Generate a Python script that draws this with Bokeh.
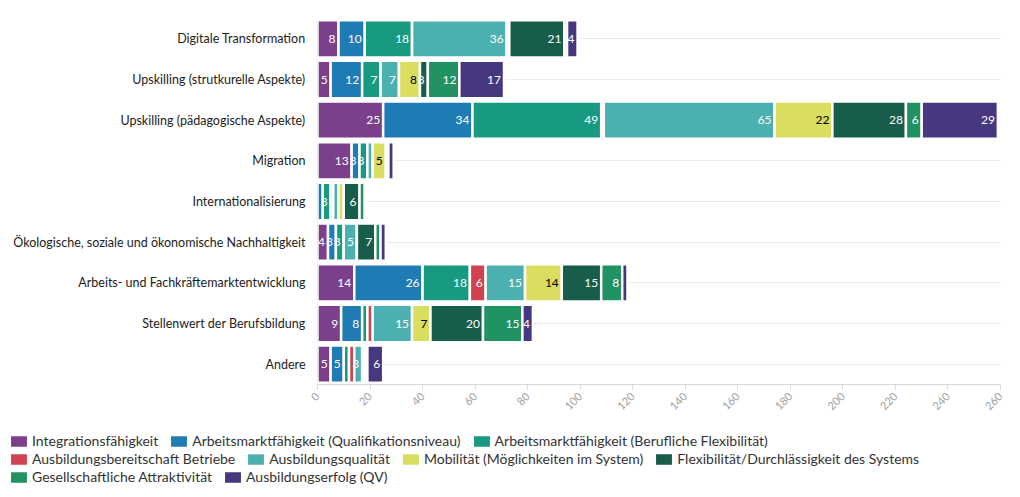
import math
from bokeh.plotting import figure
from bokeh.layouts import column
from bokeh.models import ColumnDataSource, FactorRange, Range1d, FixedTicker, Legend, LegendItem
from bokeh.embed import file_html
from bokeh.resources import INLINE
from bokeh.core.properties import value

FONT = "Lato"

categories = [
    "Digitale Transformation",
    "Upskilling (strutkurelle Aspekte)",
    "Upskilling (pädagogische Aspekte)",
    "Migration",
    "Internationalisierung",
    "Ökologische, soziale und ökonomische Nachhaltigkeit",
    "Arbeits- und Fachkräftemarktentwicklung",
    "Stellenwert der Berufsbildung",
    "Andere",
]

series_names = [
    "Integrationsfähigkeit",
    "Arbeitsmarktfähigkeit (Qualifikationsniveau)",
    "Arbeitsmarktfähigkeit (Berufliche Flexibilität)",
    "Ausbildungsbereitschaft Betriebe",
    "Ausbildungsqualität",
    "Mobilität (Möglichkeiten im System)",
    "Flexibilität/Durchlässigkeit des Systems",
    "Gesellschaftliche Attraktivität",
    "Ausbildungserfolg (QV)",
]

integration      = [8, 5, 25, 13, 0, 4, 14, 9, 5]
arbeit_qual      = [10, 12, 34, 3, 2, 3, 26, 8, 5]
arbeit_flex      = [18, 7, 49, 3, 3, 3, 18, 2, 2]
bereitschaft     = [0, 0, 1, 0, 1, 0, 6, 2, 2]
qualitaet        = [36, 7, 65, 2, 2, 5, 15, 15, 3]
mobilitaet       = [1, 8, 22, 5, 2, 0, 14, 7, 1]
durchlaessigkeit = [21, 3, 28, 1, 6, 7, 15, 20, 0]
attraktivitaet   = [1, 12, 6, 0, 2, 2, 8, 15, 1]
erfolg           = [4, 17, 29, 2, 0, 2, 2, 4, 6]

series_values = [integration, arbeit_qual, arbeit_flex, bereitschaft, qualitaet,
                 mobilitaet, durchlaessigkeit, attraktivitaet, erfolg]

colors = ["#7b3f8c", "#1f7bb4", "#179a7f", "#d0424f", "#4db0b0",
          "#d9dd60", "#175d4a", "#219262", "#46377f"]
label_colors = ["white", "white", "white", "white", "white",
                "black", "white", "white", "white"]

keys = [f"s{i}" for i in range(len(series_names))]
data = {"cat": categories}
for k, vals in zip(keys, series_values):
    data[k] = vals
source = ColumnDataSource(data)

# ---------------- main chart ----------------
p = figure(width=1018, height=425, output_backend="svg", toolbar_location=None,
           y_range=FactorRange(factors=list(reversed(categories))),
           x_range=Range1d(0, 260),
           min_border_left=317, min_border_right=18, min_border_top=18,
           min_border_bottom=41)
p.frame_align = False
p.outline_line_color = None
p.xgrid.grid_line_color = None
p.ygrid.grid_line_color = "#ececec"

p.hbar_stack(keys, y="cat", height=0.92, fill_color=colors,
             line_color="white", line_width=2.5, source=source)

# data labels (inside, right aligned at segment end)
cum = [0] * len(categories)
for i, vals in enumerate(series_values):
    xs, ys, ts = [], [], []
    for j, v in enumerate(vals):
        cum[j] += v
        if v >= 3:
            xs.append(cum[j]); ys.append(categories[j]); ts.append(str(v))
    if xs:
        p.text(x=xs, y=ys, text=ts, x_offset=-3, text_align="right",
               text_baseline="middle", text_font_size="12px",
               text_color=label_colors[i], text_font=value(FONT))

p.xaxis.ticker = FixedTicker(ticks=list(range(0, 261, 20)))
p.xaxis.major_label_orientation = math.pi / 4
p.xaxis.axis_line_color = "#d8d8d8"
p.xaxis.major_tick_line_color = "#d8d8d8"
p.xaxis.major_tick_out = 5
p.xaxis.major_tick_in = 0
p.xaxis.minor_tick_line_color = None
p.xaxis.major_label_text_color = "#a0a0a0"
p.xaxis.major_label_text_font_size = "11px"
p.xaxis.major_label_text_font = FONT

p.yaxis.axis_line_color = None
p.yaxis.major_tick_line_color = None
p.yaxis.major_tick_out = 0
p.yaxis.major_tick_in = 0
p.yaxis.minor_tick_line_color = None
p.yaxis.major_label_text_font_size = "12.5px"
p.yaxis.major_label_text_color = "#222222"
p.yaxis.major_label_text_font = FONT
p.yaxis.major_label_standoff = 12

# ---------------- legend strip ----------------
lg = figure(width=1018, height=71, output_backend="svg", toolbar_location=None,
            y_range=FactorRange(factors=list(reversed(categories))),
            x_range=Range1d(-20, -10),
            x_axis_location=None, y_axis_location=None,
            min_border_left=0, min_border_right=0, min_border_top=0,
            min_border_bottom=0)
lg.frame_align = False
lg.outline_line_color = None
lg.xgrid.grid_line_color = None
lg.ygrid.grid_line_color = None
leg_renderers = lg.hbar_stack(keys, y="cat", height=0.92, fill_color=colors,
                              line_color="white", line_width=2.5, source=source)

rows = [[0, 1, 2], [3, 4, 5, 6], [7, 8]]
vys = [47, 29, 11]
for row, vy in zip(rows, vys):
    leg = Legend(items=[LegendItem(label=series_names[i], renderers=[leg_renderers[i]]) for i in row],
                 location=(7, vy), orientation="horizontal",
                 glyph_width=23, glyph_height=16, label_height=16,
                 label_standoff=2, spacing=9, padding=0, margin=0,
                 label_text_font=FONT, label_text_font_size="14px",
                 label_text_color="#333333", border_line_color=None,
                 background_fill_alpha=0)
    lg.add_layout(leg)

layout = column(p, lg)
open("out.html", "w").write(file_html(layout, INLINE))
